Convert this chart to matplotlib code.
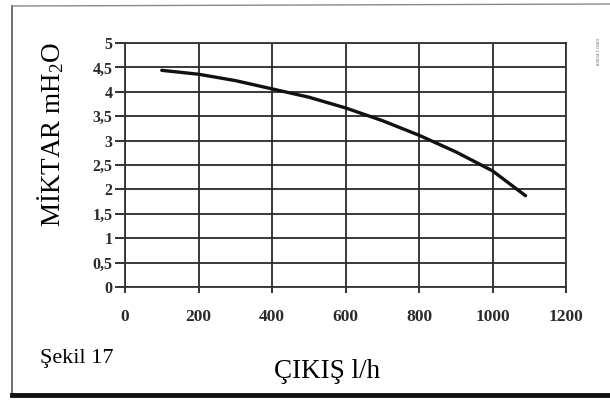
import matplotlib.pyplot as plt
from matplotlib.lines import Line2D

# pump curve
flow = [100, 200, 300, 400, 500, 600, 700, 800, 900, 1000, 1090]
head = [4.44, 4.36, 4.23, 4.06, 3.89, 3.67, 3.41, 3.11, 2.77, 2.38, 1.87]

x_ticks = [0, 200, 400, 600, 800, 1000, 1200]
y_ticks = [0, 0.5, 1, 1.5, 2, 2.5, 3, 3.5, 4, 4.5, 5]
y_labels = ['0', '0,5', '1', '1,5', '2', '2,5', '3', '3,5', '4', '4,5', '5']

serif = ['Liberation Serif', 'DejaVu Serif']
plt.rcParams['mathtext.fontset'] = 'custom'
plt.rcParams['mathtext.rm'] = 'Liberation Serif'
plt.rcParams['mathtext.it'] = 'Liberation Serif:italic'

fig = plt.figure(figsize=(6.1, 4.0), dpi=100)
ax = fig.add_axes([125 / 610, 1 - 287 / 400, 441 / 610, 244 / 400])

ax.plot(flow, head, color='#111111', lw=2.4, solid_capstyle='round')

ax.set_xlim(0, 1200)
ax.set_ylim(0, 5)
ax.set_xticks(x_ticks)
ax.set_yticks(y_ticks)
ax.set_yticklabels(y_labels)
ax.grid(True, color='#2a2a2a', lw=1.3)
ax.set_axisbelow(True)
for s in ax.spines.values():
    s.set_color('#333333')
    s.set_linewidth(1.3)
ax.tick_params(axis='y', length=7, width=1.3, color='#222222', pad=2)
ax.tick_params(axis='x', length=4, width=1.3, color='#222222', pad=12)
for lab in ax.get_xticklabels():
    lab.set_family(serif)
    lab.set_fontsize(12.5)
    lab.set_fontweight('bold')
    lab.set_color('#2a2a2a')
for lab in ax.get_yticklabels():
    lab.set_family(serif)
    lab.set_fontsize(11.5)
    lab.set_fontweight('bold')
    lab.set_color('#2a2a2a')

fig.text(0.083, 0.665, r'MİKTAR mH$_\mathrm{2}$O', rotation=90, ha='center', va='center',
         fontsize=19.5, family=serif)
fig.text(0.536, 0.07, 'ÇIKIŞ l/h', ha='center', va='center', fontsize=19.5, family=serif)
fig.text(0.066, 0.105, 'Şekil 17', ha='left', va='center', fontsize=16, family=serif)
fig.text(0.982, 0.87, '82034 1 0189', rotation=90, ha='center', va='center',
         fontsize=3.5, color='#555555', family=serif)

# page frame of the scan
fig.add_artist(Line2D([12 / 610, 12 / 610], [0.012, 0.985], color='#555555', lw=1.2))
fig.add_artist(Line2D([12 / 610, 1.0], [0.985, 0.99], color='#888888', lw=1.0))
fig.add_artist(Line2D([12 / 610, 1.0], [0.012, 0.012], color='#111111', lw=3.5))

fig.savefig('out.png', dpi=100)
